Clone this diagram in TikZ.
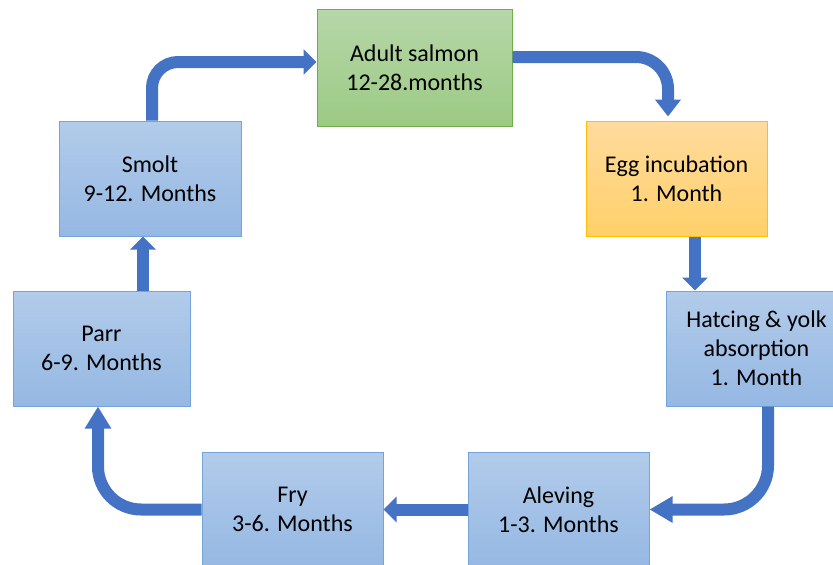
\documentclass[tikz,border=0pt]{standalone}
\usepackage{fontspec}
\setmainfont{Carlito}
\usetikzlibrary{arrows.meta}
\definecolor{arrowblue}{HTML}{4472C4}
\definecolor{bluetop}{HTML}{B2CBEA}
\definecolor{bluebot}{HTML}{95B8E3}
\definecolor{blueedge}{HTML}{74A5DA}
\definecolor{greentop}{HTML}{B6D7A9}
\definecolor{greenbot}{HTML}{9CCA84}
\definecolor{greenedge}{HTML}{70AD47}
\definecolor{orangetop}{HTML}{FFDB9E}
\definecolor{orangebot}{HTML}{FFD069}
\definecolor{orangeedge}{HTML}{FFC000}
\tikzset{
  stage/.style={rectangle, draw=blueedge, line width=1pt, top color=bluetop, bottom color=bluebot,
    minimum height=115pt, align=center, inner sep=0pt,
    font=\fontsize{24}{29}\selectfont},
  adultbox/.style={stage, draw=greenedge, top color=greentop, bottom color=greenbot},
  eggbox/.style={stage, draw=orangeedge, top color=orangetop, bottom color=orangebot},
  flow/.style={draw=arrowblue, line width=12pt, line cap=butt,
    -{Triangle[length=#1, width=25pt, fill=arrowblue]}},
  flow/.default=13pt
}
\begin{document}
\begin{tikzpicture}[x=1pt, y=-1pt]
\useasboundingbox (0,0) rectangle (833,565);
\clip (0,0) rectangle (833,565);
\node[adultbox, minimum width=195pt, minimum height=117pt] (adult) at (414.5,67.5) {Adult salmon\\12-28.months};
\node[eggbox, minimum width=181pt] (egg) at (676.5,178.5) {Egg incubation\\1. Month};
\node[stage, minimum width=181pt] (hatch) at (756.5,348.5) {Hatcing \& yolk\\absorption\\1. Month};
\node[stage, minimum width=181pt] (alev) at (558.5,509.5) {Aleving\\1-3. Months};
\node[stage, minimum width=181pt] (fry) at (292.5,509.5) {Fry\\3-6. Months};
\node[stage, minimum width=177pt] (parr) at (101.5,348.5) {Parr\\6-9. Months};
\node[stage, minimum width=182pt] (smolt) at (150,178.5) {Smolt\\9-12. Months};

\draw[flow, rounded corners=26pt] ([xshift=2pt]smolt.north) |- ([yshift=5.5pt]adult.west);
\draw[flow=17pt, rounded corners=32pt] ([yshift=10.5pt]adult.east) -| ([xshift=-8.5pt,yshift=4pt]egg.north);
\draw[flow] ([xshift=18.5pt]egg.south) -- ([xshift=18.5pt]egg.south |- hatch.north);
\draw[flow=23pt, rounded corners=44pt] ([xshift=11.5pt]hatch.south) |- (alev.east);
\draw[flow] (alev.west) -- (fry.east);
\draw[flow=22pt, rounded corners=43pt] (fry.west) -| ([xshift=-3.5pt]parr.south);
\draw[flow] ([xshift=41.5pt]parr.north) -- ([xshift=41.5pt]parr.north |- smolt.south);
\end{tikzpicture}
\end{document}
